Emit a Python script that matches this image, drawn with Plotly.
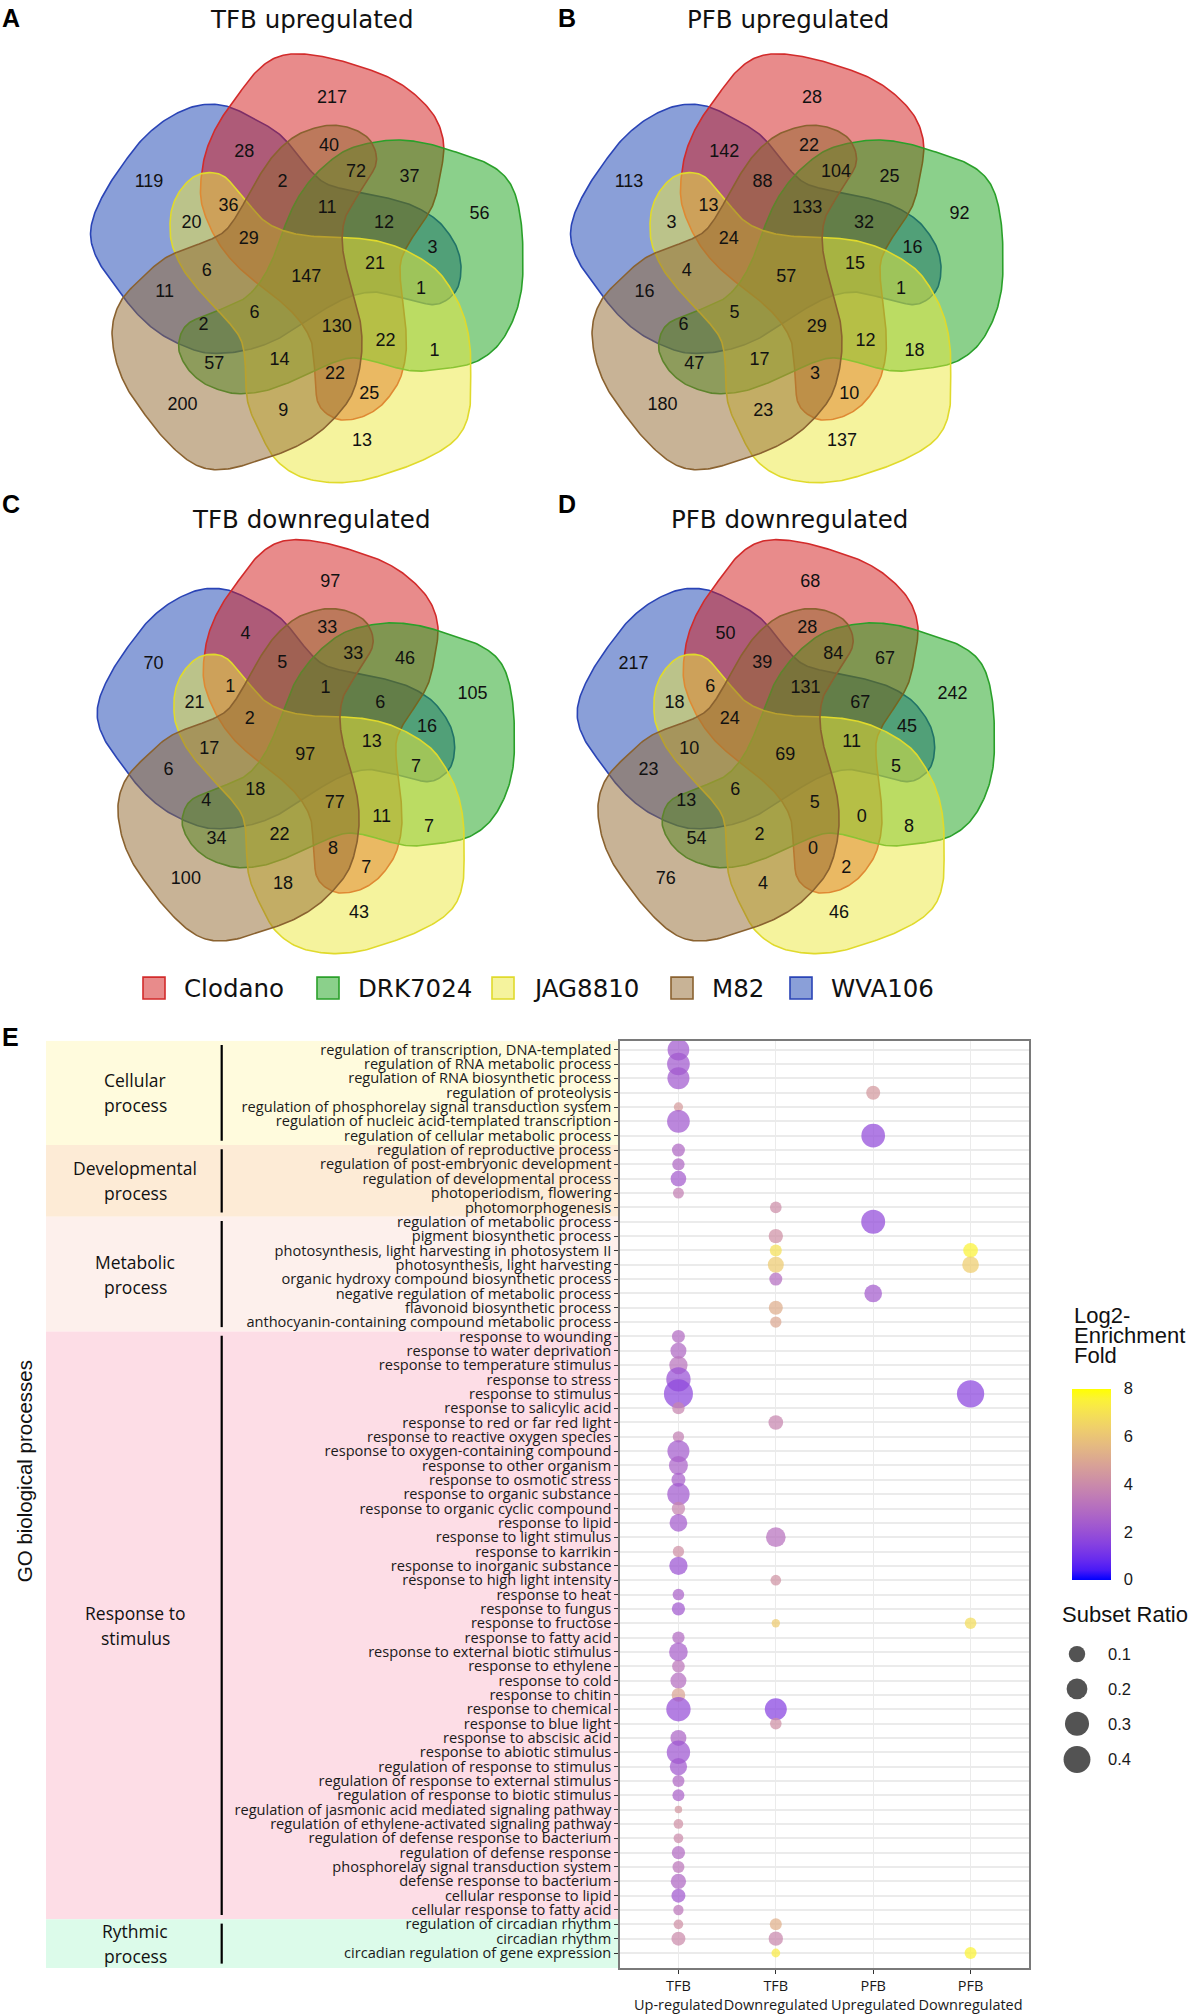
import numpy as np
import plotly.graph_objects as go

FIG_W, FIG_H = 1196, 2014

# ======================= DATA =======================
# ---- Venn diagrams (A-D) ----
set_names = ["Clodano", "DRK7024", "JAG8810", "M82", "WVA106"]
set_codes = ["R", "G", "Y", "M", "W"]          # R=Clodano G=DRK7024 Y=JAG8810 M=M82 W=WVA106
regions = ["R", "G", "Y", "M", "W",
           "RW", "RG", "GY", "YM", "MW",
           "RM", "GW", "RY", "GM", "WY",
           "RWM", "RGW", "RGY", "GYM", "YMW",
           "RGM", "GYW", "RYM", "GMW", "RYW",
           "RGMW", "RGYW", "RGYM", "GYMW", "RYMW",
           "RGYMW"]
tfb_up_counts = [217, 56, 13, 200, 119, 28, 37, 1, 9, 11, 40, 3, 25, 57, 20,
                 2, 12, 22, 14, 6, 72, 1, 22, 2, 36, 11, 21, 130, 6, 29, 147]
pfb_up_counts = [28, 92, 137, 180, 113, 142, 25, 18, 23, 16, 22, 16, 10, 47, 3,
                 88, 32, 12, 17, 4, 104, 1, 3, 6, 13, 133, 15, 29, 5, 24, 57]
tfb_down_counts = [97, 105, 43, 100, 70, 4, 46, 7, 18, 6, 33, 16, 7, 34, 21,
                   5, 6, 11, 22, 17, 33, 7, 8, 4, 1, 1, 13, 77, 18, 2, 97]
pfb_down_counts = [68, 242, 46, 76, 217, 50, 67, 8, 4, 23, 28, 45, 2, 54, 18,
                   39, 67, 0, 2, 10, 84, 5, 0, 13, 6, 131, 11, 5, 6, 24, 69]
venn_titles = ["TFB upregulated", "PFB upregulated", "TFB downregulated", "PFB downregulated"]
venn_letters = ["A", "B", "C", "D"]

# ---- GO dot plot (E) ----
go_groups = ["Cellular process", "Developmental process", "Metabolic process",
             "Response to stimulus", "Rythmic process"]
go_group_sizes = [7, 5, 8, 41, 3]
go_terms = [
    "regulation of transcription, DNA-templated",
    "regulation of RNA metabolic process",
    "regulation of RNA biosynthetic process",
    "regulation of proteolysis",
    "regulation of phosphorelay signal transduction system",
    "regulation of nucleic acid-templated transcription",
    "regulation of cellular metabolic process",
    "regulation of reproductive process",
    "regulation of post-embryonic development",
    "regulation of developmental process",
    "photoperiodism, flowering",
    "photomorphogenesis",
    "regulation of metabolic process",
    "pigment biosynthetic process",
    "photosynthesis, light harvesting in photosystem II",
    "photosynthesis, light harvesting",
    "organic hydroxy compound biosynthetic process",
    "negative regulation of metabolic process",
    "flavonoid biosynthetic process",
    "anthocyanin-containing compound metabolic process",
    "response to wounding",
    "response to water deprivation",
    "response to temperature stimulus",
    "response to stress",
    "response to stimulus",
    "response to salicylic acid",
    "response to red or far red light",
    "response to reactive oxygen species",
    "response to oxygen-containing compound",
    "response to other organism",
    "response to osmotic stress",
    "response to organic substance",
    "response to organic cyclic compound",
    "response to lipid",
    "response to light stimulus",
    "response to karrikin",
    "response to inorganic substance",
    "response to high light intensity",
    "response to heat",
    "response to fungus",
    "response to fructose",
    "response to fatty acid",
    "response to external biotic stimulus",
    "response to ethylene",
    "response to cold",
    "response to chitin",
    "response to chemical",
    "response to blue light",
    "response to abscisic acid",
    "response to abiotic stimulus",
    "regulation of response to stimulus",
    "regulation of response to external stimulus",
    "regulation of response to biotic stimulus",
    "regulation of jasmonic acid mediated signaling pathway",
    "regulation of ethylene-activated signaling pathway",
    "regulation of defense response to bacterium",
    "regulation of defense response",
    "phosphorelay signal transduction system",
    "defense response to bacterium",
    "cellular response to lipid",
    "cellular response to fatty acid",
    "regulation of circadian rhythm",
    "circadian rhythm",
    "circadian regulation of gene expression",
]
comparisons = ["TFB<br>Up-regulated", "TFB<br>Downregulated", "PFB<br>Upregulated", "PFB<br>Downregulated"]

tfb_up_terms = [
    "regulation of transcription, DNA-templated", "regulation of RNA metabolic process",
    "regulation of RNA biosynthetic process", "regulation of phosphorelay signal transduction system",
    "regulation of nucleic acid-templated transcription", "regulation of reproductive process",
    "regulation of post-embryonic development", "regulation of developmental process",
    "photoperiodism, flowering", "response to wounding", "response to water deprivation",
    "response to temperature stimulus", "response to stress", "response to stimulus",
    "response to salicylic acid", "response to reactive oxygen species",
    "response to oxygen-containing compound", "response to other organism",
    "response to osmotic stress", "response to organic substance",
    "response to organic cyclic compound", "response to lipid", "response to karrikin",
    "response to inorganic substance", "response to heat", "response to fungus",
    "response to fatty acid", "response to external biotic stimulus", "response to ethylene",
    "response to cold", "response to chitin", "response to chemical", "response to abscisic acid",
    "response to abiotic stimulus", "regulation of response to stimulus",
    "regulation of response to external stimulus", "regulation of response to biotic stimulus",
    "regulation of jasmonic acid mediated signaling pathway",
    "regulation of ethylene-activated signaling pathway",
    "regulation of defense response to bacterium", "regulation of defense response",
    "phosphorelay signal transduction system", "defense response to bacterium",
    "cellular response to lipid", "cellular response to fatty acid",
    "regulation of circadian rhythm", "circadian rhythm"]
tfb_up_ratio = [0.226, 0.256, 0.235, 0.010, 0.256, 0.045, 0.037, 0.086, 0.023, 0.045, 0.092,
                0.140, 0.308, 0.486, 0.037, 0.026, 0.235, 0.155, 0.059, 0.245, 0.049, 0.125,
                0.026, 0.140, 0.029, 0.049, 0.037, 0.148, 0.041, 0.092, 0.054, 0.308, 0.092,
                0.276, 0.118, 0.033, 0.033, 0.002, 0.0125, 0.0125, 0.049, 0.033, 0.080, 0.059,
                0.017, 0.0125, 0.059]
tfb_up_fold = [2.3, 2.3, 2.3, 4.6, 2.3, 2.8, 2.8, 2.4, 3.6, 2.9, 2.8, 3.2, 2.0, 1.7, 3.8, 3.6,
               2.4, 2.6, 2.5, 2.3, 3.8, 2.4, 4.2, 2.1, 2.6, 2.3, 2.9, 2.5, 3.3, 3.0, 4.9, 1.9,
               2.7, 2.2, 2.3, 2.8, 2.6, 4.4, 4.2, 4.0, 2.9, 3.3, 2.8, 2.3, 3.3, 4.2, 4.0]

tfb_down_terms = [
    "photomorphogenesis", "pigment biosynthetic process",
    "photosynthesis, light harvesting in photosystem II", "photosynthesis, light harvesting",
    "organic hydroxy compound biosynthetic process", "flavonoid biosynthetic process",
    "anthocyanin-containing compound metabolic process", "response to red or far red light",
    "response to light stimulus", "response to high light intensity", "response to fructose",
    "response to chemical", "response to blue light", "regulation of circadian rhythm",
    "circadian rhythm", "circadian regulation of gene expression"]
tfb_down_ratio = [0.029, 0.064, 0.033, 0.092, 0.045, 0.059, 0.026, 0.069, 0.171, 0.020,
                  0.005, 0.235, 0.029, 0.033, 0.064, 0.007]
tfb_down_fold = [4.1, 4.2, 6.9, 6.2, 3.0, 5.2, 5.0, 3.8, 3.1, 4.3, 6.2, 1.5, 4.2, 5.3, 3.9, 7.3]

pfb_up_terms = ["regulation of proteolysis", "regulation of cellular metabolic process",
                "regulation of metabolic process", "negative regulation of metabolic process"]
pfb_up_ratio = [0.059, 0.287, 0.297, 0.125]
pfb_up_fold = [4.5, 1.8, 1.8, 2.4]

pfb_down_terms = ["photosynthesis, light harvesting in photosystem II",
                  "photosynthesis, light harvesting", "response to stimulus",
                  "response to fructose", "circadian regulation of gene expression"]
pfb_down_ratio = [0.069, 0.105, 0.417, 0.029, 0.033]
pfb_down_fold = [7.6, 6.3, 1.6, 6.8, 7.6]

size_legend_values = [0.1, 0.2, 0.3, 0.4]
fold_ticks = [0, 2, 4, 6, 8]

# ======================= STYLE / GEOMETRY =======================
set_line_colors = ["#D22B2B", "#2AA02A", "#E0DA2C", "#8A6230", "#2A44B6"]
set_fill_colors = ["rgba(209,23,23,0.5)", "rgba(23,161,23,0.5)", "rgba(236,231,60,0.5)",
                   "rgba(145,104,46,0.5)", "rgba(22,63,178,0.5)"]
draw_order = [4, 0, 1, 2, 3]      # WVA106 at the bottom, M82 on top

# one set outline (JAG8810 orientation), relative to the diagram centre, y up;
# the other four sets are the same outline rotated by multiples of 72 degrees
shape_template = np.array([
    (-95.6, 102.3), (-82.2, 97.3), (-70.7, 84.0), (-59.2, 70.7), (-44.0, 54.0), (-24.8, 44.0),
    (-1.8, 39.0), (25.0, 37.3), (44.0, 36.7), (67.0, 34.0), (90.0, 27.3), (113.0, 15.7),
    (132.0, 0.7), (147.4, -22.7), (157.0, -46.0), (162.0, -72.7), (162.7, -102.7),
    (162.0, -132.7), (155.0, -156.0), (139.8, -172.7), (113.0, -187.7), (82.0, -199.3),
    (51.7, -207.7), (21.0, -209.3), (-9.5, -202.7), (-32.5, -186.0), (-48.0, -159.3),
    (-59.2, -132.7), (-62.3, -109.3), (-63.0, -86.0), (-67.0, -66.0), (-78.4, -49.3),
    (-93.7, -32.7), (-109.0, -16.0), (-124.3, 4.0), (-134.0, 24.0), (-137.7, 40.7),
    (-136.6, 64.0), (-128.1, 84.0), (-112.8, 99.0)])
TEMPLATE_SET = 2

# label offsets (px from the diagram centre, y up), same order as `regions`
region_label_offsets = [
    (24, 177), (171.5, 60), (54, -168), (-125.5, -132), (-159, 92),
    (-63.8, 123), (101.5, 97.3), (126.4, -77.7), (-24.8, -137.7), (-143.4, -18.7),
    (21, 129), (124.5, 25.7), (61.3, -121), (-93.7, -91), (-116.6, 51.3),
    (-25.6, 92.3), (75.9, 50.7), (77.4, -67.7), (-28.6, -86.7), (-101.3, 3.3),
    (47.9, 102.3), (113, -15.3), (26.9, -101), (-104.4, -51), (-79.5, 68),
    (19.2, 66.7), (67, 10), (28.8, -53.3), (-53.5, -39.3), (-59.2, 34.7),
    (-1.8, -2.7)]

venn_frames = [
    dict(cx=308, cy=274, s=1.0, letter=(0, 16), title=(311, 18)),
    dict(cx=788, cy=274, s=1.0, letter=(556, 16), title=(788, 18)),
    dict(cx=307, cy=755, s=0.965, letter=(0, 505), title=(311, 521)),
    dict(cx=787, cy=755, s=0.965, letter=(556, 505), title=(789, 521)),
]


def catmull_rom_closed(pts, n=14):
    P = np.asarray(pts, float)
    N = len(P)
    t = np.linspace(0, 1, n, endpoint=False)[:, None]
    segs = []
    for i in range(N):
        p0, p1, p2, p3 = P[(i - 1) % N], P[i], P[(i + 1) % N], P[(i + 2) % N]
        segs.append(0.5 * (2 * p1 + (-p0 + p2) * t + (2 * p0 - 5 * p1 + 4 * p2 - p3) * t ** 2
                           + (-p0 + 3 * p1 - 3 * p2 + p3) * t ** 3))
    out = np.vstack(segs)
    return np.vstack([out, out[:1]])


smooth_template = catmull_rom_closed(shape_template)


def rotate_cw(xy, deg):
    th = np.radians(deg)
    x, y = xy[..., 0], xy[..., 1]
    return np.stack([x * np.cos(th) + y * np.sin(th), -x * np.sin(th) + y * np.cos(th)], axis=-1)


# ---- colour scale: ggplot-like blue -> yellow gradient interpolated in CIELAB ----
def _srgb_to_lab(rgb):
    c = np.asarray(rgb, float) / 255.0
    lin = np.where(c <= 0.04045, c / 12.92, ((c + 0.055) / 1.055) ** 2.4)
    M = np.array([[0.4124, 0.3576, 0.1805], [0.2126, 0.7152, 0.0722], [0.0193, 0.1192, 0.9505]])
    xyz = M @ lin / np.array([0.95047, 1.0, 1.08883])
    f = np.where(xyz > (6 / 29) ** 3, np.cbrt(xyz), xyz / (3 * (6 / 29) ** 2) + 4 / 29)
    return np.array([116 * f[1] - 16, 500 * (f[0] - f[1]), 200 * (f[1] - f[2])])


def _lab_to_srgb(lab):
    L, a, b = lab
    fy = (L + 16) / 116
    fx, fz = fy + a / 500, fy - b / 200
    f = np.array([fx, fy, fz])
    xyz = np.where(f > 6 / 29, f ** 3, 3 * (6 / 29) ** 2 * (f - 4 / 29)) * np.array([0.95047, 1.0, 1.08883])
    Minv = np.array([[3.2406, -1.5372, -0.4986], [-0.9689, 1.8758, 0.0415], [0.0557, -0.2040, 1.0570]])
    lin = np.clip(Minv @ xyz, 0, 1)
    c = np.where(lin <= 0.0031308, 12.92 * lin, 1.055 * lin ** (1 / 2.4) - 0.055)
    return np.clip(np.round(c * 255), 0, 255).astype(int)


lab_lo, lab_hi = _srgb_to_lab([0, 0, 255]), _srgb_to_lab([255, 255, 0])
fold_colorscale = []
for t in np.linspace(0, 1, 21):
    r, g, b = _lab_to_srgb(lab_lo + (lab_hi - lab_lo) * t)
    fold_colorscale.append([float(t), f"rgb({r},{g},{b})"])


def ratio_to_px(v):
    return 6.0 + 33.0 * np.sqrt(np.asarray(v, float))


# ======================= FIGURE =======================
fig = go.Figure()
annotations = []
shapes = []

DEJAVU = "DejaVu Sans"
ARIAL = "Liberation Sans"
OPEN = "Open Sans"

all_counts = [tfb_up_counts, pfb_up_counts, tfb_down_counts, pfb_down_counts]
offs = np.array(region_label_offsets, float)
for vi, fr in enumerate(venn_frames):
    cx, cy, s = fr["cx"], fr["cy"], fr["s"]
    for si in draw_order:
        pts = rotate_cw(smooth_template, (si - TEMPLATE_SET) * 72)
        fig.add_trace(go.Scatter(
            x=cx + s * pts[:, 0], y=cy - s * pts[:, 1], mode="lines", fill="toself",
            fillcolor=set_fill_colors[si], line=dict(color=set_line_colors[si], width=1.6),
            hoverinfo="skip", showlegend=False, xaxis="x", yaxis="y"))
    fig.add_trace(go.Scatter(
        x=cx + s * offs[:, 0], y=cy - s * offs[:, 1], mode="text",
        text=[str(v) for v in all_counts[vi]],
        textfont=dict(family=ARIAL, size=18, color="#111111"),
        hoverinfo="skip", showlegend=False, xaxis="x", yaxis="y"))
    annotations.append(dict(x=fr["title"][0], y=fr["title"][1], xref="x", yref="y",
                            text=venn_titles[vi], showarrow=False, xanchor="center",
                            font=dict(family=DEJAVU, size=24.5, color="#111111")))
    annotations.append(dict(x=fr["letter"][0], y=fr["letter"][1], xref="x", yref="y",
                            text=f"<b>{venn_letters[vi]}</b>", showarrow=False, xanchor="left",
                            font=dict(family=ARIAL, size=25, color="#000000")))

# Venn legend
legend_box_x = [143, 317, 492, 671, 790]
for si, name in enumerate(set_names):
    x0 = legend_box_x[si]
    shapes.append(dict(type="rect", xref="x", yref="y", x0=x0, x1=x0 + 22, y0=981, y1=1003,
                       fillcolor=set_fill_colors[si], line=dict(color=set_line_colors[si], width=1.6)))
    annotations.append(dict(x=x0 + 39, y=992, xref="x", yref="y", text=name, showarrow=False,
                            xanchor="left", font=dict(family=DEJAVU, size=24.5, color="#111111")))

annotations.append(dict(x=0, y=1041, xref="x", yref="y", text="<b>E</b>", showarrow=False,
                        xanchor="left", font=dict(family=ARIAL, size=25, color="#000000")))

# ---- dot plot ----
row_of = {t: i for i, t in enumerate(go_terms)}
col_data = [(tfb_up_terms, tfb_up_ratio, tfb_up_fold), (tfb_down_terms, tfb_down_ratio, tfb_down_fold),
            (pfb_up_terms, pfb_up_ratio, pfb_up_fold), (pfb_down_terms, pfb_down_ratio, pfb_down_fold)]
dx, dy, dsz, dcol = [], [], [], []
for ci, (terms, ratios, folds) in enumerate(col_data):
    for t, r, f in zip(terms, ratios, folds):
        dx.append(ci + 1)
        dy.append(row_of[t])
        dsz.append(float(ratio_to_px(r)))
        dcol.append(f)

fig.add_trace(go.Scatter(
    x=dx, y=dy, mode="markers", xaxis="x2", yaxis="y2", showlegend=False, hoverinfo="skip",
    marker=dict(size=dsz, color=dcol, cmin=0, cmax=8, colorscale=fold_colorscale, opacity=0.72,
                line=dict(width=0),
                showscale=True,
                colorbar=dict(x=1072 / FIG_W, xanchor="left", xpad=0, y=1 - 1587 / FIG_H,
                              yanchor="bottom", ypad=0, len=191, lenmode="pixels", thickness=39,
                              outlinewidth=0, tickvals=fold_ticks, ticks="outside", ticklen=10,
                              tickcolor="rgba(0,0,0,0)",
                              tickfont=dict(family=ARIAL, size=16.5, color="#1a1a1a")))))

# colour legend title + size legend
for txt, yy in [("Log2-", 1321), ("Enrichment", 1341), ("Fold", 1362)]:
    annotations.append(dict(x=1072, y=yy, xref="x", yref="y", text=txt, showarrow=False,
                            xanchor="left", font=dict(family=ARIAL, size=22, color="#111111")))
annotations.append(dict(x=1060, y=1622, xref="x", yref="y", text="Subset Ratio", showarrow=False,
                        xanchor="left", font=dict(family=ARIAL, size=22, color="#111111")))
size_leg_y = [1662, 1697, 1732, 1768]
fig.add_trace(go.Scatter(
    x=[1077] * len(size_legend_values), y=size_leg_y, mode="markers", xaxis="x", yaxis="y",
    marker=dict(size=ratio_to_px(size_legend_values), color="#4a4a4a", opacity=0.95, line=dict(width=0)),
    hoverinfo="skip", showlegend=False))
for v, yy in zip(size_legend_values, size_leg_y):
    annotations.append(dict(x=1106, y=yy, xref="x", yref="y", text=f"{v:.1f}", showarrow=False,
                            xanchor="left", font=dict(family=ARIAL, size=16.5, color="#1a1a1a")))

# white tick marks inside colour bar
for v in [2, 4, 6]:
    yy = 1587 - v / 8 * 191
    for xa, xb in [(1072, 1079), (1104, 1111)]:
        shapes.append(dict(type="line", xref="x", yref="y", x0=xa, x1=xb, y0=yy, y1=yy,
                           line=dict(color="rgba(255,255,255,0.8)", width=1.2)))

# group bands
band_colors = ["#FFFBDD", "#FDEBD6", "#FDF0EC", "#FDDDE6", "#DCFBEA"]
Y_TOP, Y_BOT = -0.62, len(go_terms) - 1 + 1.04
bounds = [Y_TOP]
acc = 0
for n in go_group_sizes[:-1]:
    acc += n
    bounds.append(acc - 1 + 0.65)
bounds.append(Y_BOT)
for gi, gname in enumerate(go_groups):
    y0, y1 = bounds[gi], bounds[gi + 1]
    shapes.append(dict(type="rect", xref="paper", yref="y2", x0=46 / FIG_W, x1=618 / FIG_W,
                       y0=y0, y1=y1, fillcolor=band_colors[gi], line=dict(width=0), layer="below"))
    shapes.append(dict(type="line", xref="paper", yref="y2", x0=221.7 / FIG_W, x1=221.7 / FIG_W,
                       y0=y0 + 0.3, y1=y1 - 0.3, line=dict(color="#000000", width=2.2)))
    w1, w2 = gname.rsplit(" ", 1) if gname != "Response to stimulus" else ("Response to", "stimulus")
    ymid = (y0 + y1) / 2
    for txt, sh in [(w1, 12.5), (w2, -12.5)]:
        annotations.append(dict(x=135 / FIG_W, y=ymid, xref="paper", yref="y2", yshift=sh,
                                text=txt, showarrow=False, xanchor="center", yanchor="middle",
                                font=dict(family=OPEN, size=17.5, color="#111111")))

annotations.append(dict(x=24, y=1478, xref="x", yref="y", text="GO biological processes",
                        textangle=-90, showarrow=False, xanchor="center",
                        font=dict(family=ARIAL, size=20.5, color="#111111")))

PLOT_L, PLOT_R, PLOT_T, PLOT_B = 620, 1029, 1045, 1977.7
fig.update_layout(
    width=FIG_W, height=FIG_H, margin=dict(l=0, r=0, t=0, b=0),
    paper_bgcolor="white", plot_bgcolor="rgba(0,0,0,0)", showlegend=False,
    xaxis=dict(domain=[0, 1], range=[0, FIG_W], visible=False, fixedrange=True),
    yaxis=dict(domain=[0, 1], range=[FIG_H, 0], visible=False, fixedrange=True),
    xaxis2=dict(domain=[PLOT_L / FIG_W, PLOT_R / FIG_W], anchor="y2", range=[0.4, 4.6],
                tickvals=[1, 2, 3, 4], ticktext=comparisons, tickangle=0, showgrid=True,
                gridcolor="#EBEBEB", gridwidth=1.4, zeroline=False, showline=True, mirror=True,
                linecolor="#7a7a7a", linewidth=1.5, ticks="outside", ticklen=4,
                tickcolor="#333333", tickwidth=1.4,
                tickfont=dict(family=OPEN, size=14.5, color="#1a1a1a")),
    yaxis2=dict(domain=[1 - PLOT_B / FIG_H, 1 - PLOT_T / FIG_H], anchor="x2",
                range=[Y_BOT, Y_TOP], tickvals=list(range(len(go_terms))), ticktext=go_terms,
                showgrid=True, gridcolor="#EBEBEB", gridwidth=2.2, zeroline=False, showline=True,
                mirror=True, linecolor="#7a7a7a", linewidth=1.5, ticks="outside", ticklen=4,
                tickcolor="#333333", tickwidth=1.4,
                tickfont=dict(family=OPEN, size=14.6, color="#1a1a1a")),
    annotations=annotations, shapes=shapes,
)

fig.write_html("out.html", config={"displayModeBar": False},
               post_script="document.body.style.margin='0px';")
